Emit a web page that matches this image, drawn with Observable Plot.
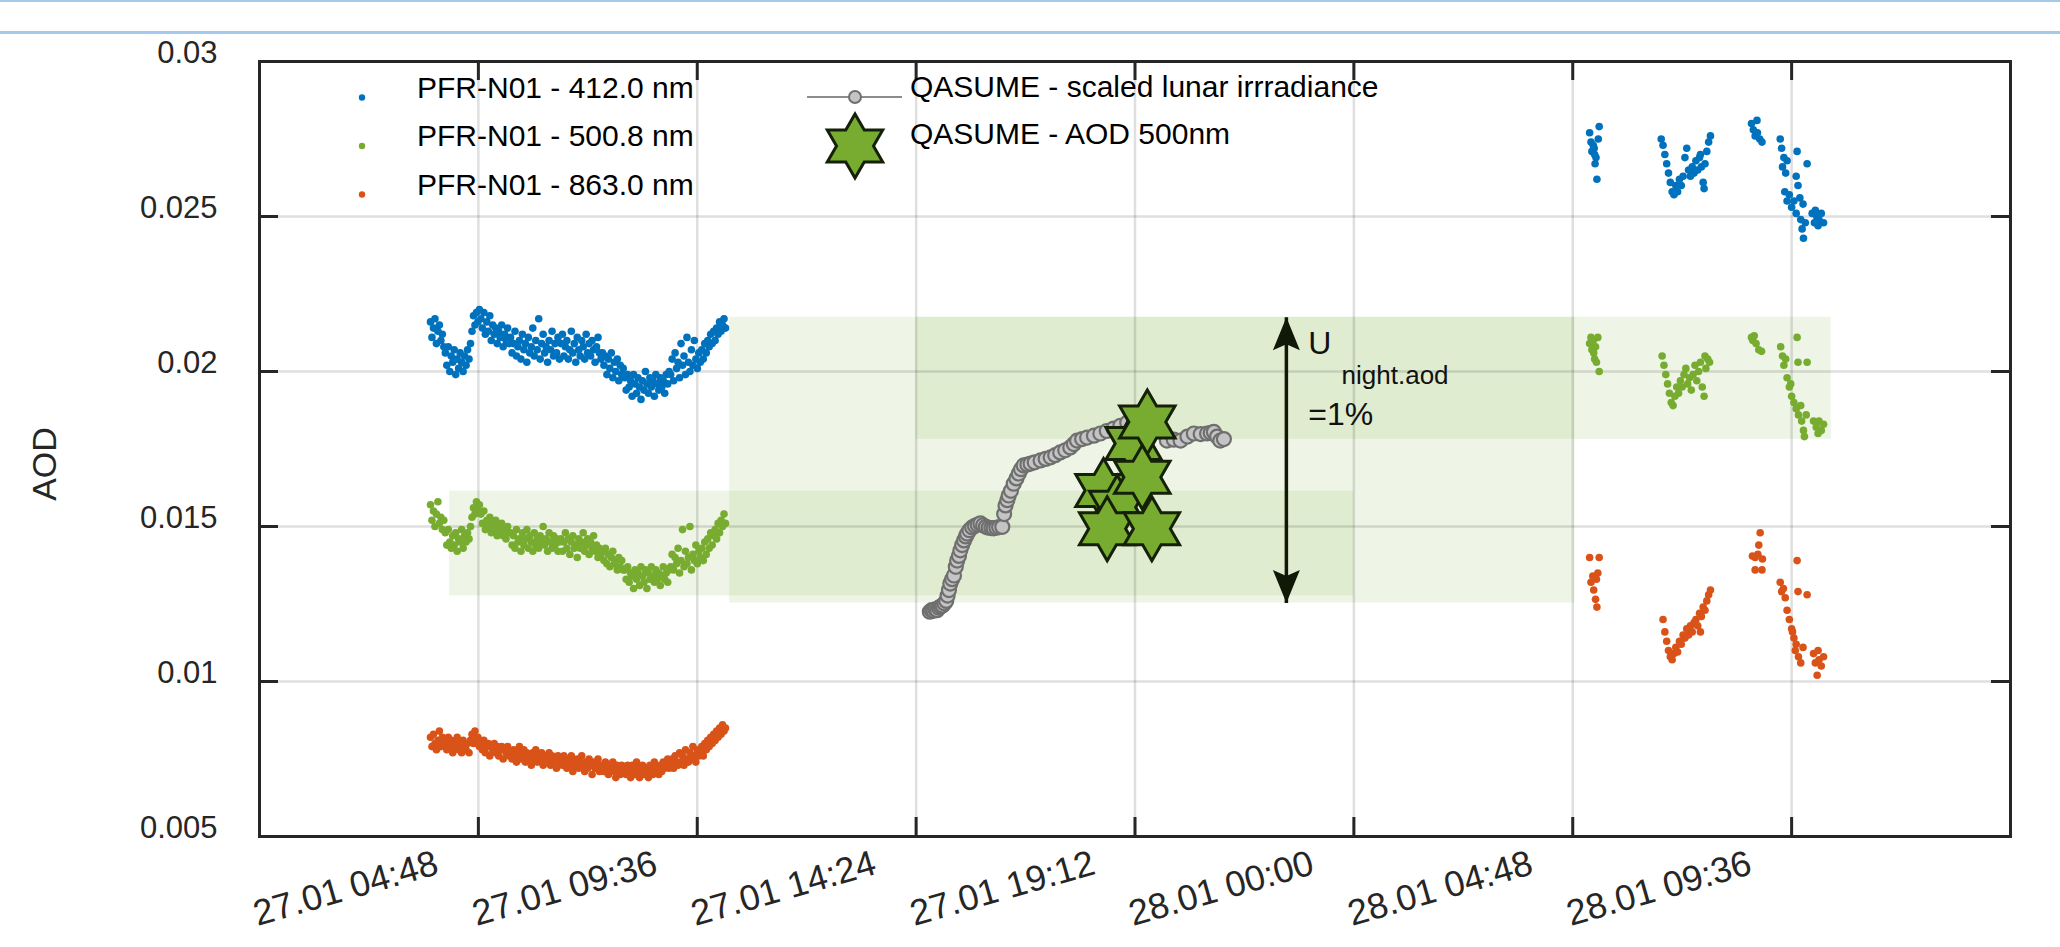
<!DOCTYPE html>
<html><head><meta charset="utf-8">
<script src="https://cdn.jsdelivr.net/npm/d3@7"></script>
<script src="https://cdn.jsdelivr.net/npm/@observablehq/plot@0.6"></script>
<style>
html,body{margin:0;padding:0;background:#fff;overflow:hidden;}
#wrap{position:relative;width:2060px;height:947px;background:#fff;}
.bar{position:absolute;left:0;width:2060px;background:#a3c9ed;}
</style></head><body>
<div id="wrap"><div id="chart"></div><div class="bar" style="top:0;height:2px"></div><div class="bar" style="top:31px;height:3px"></div></div>
<script>
const FONT = '"Liberation Sans", Arial, Helvetica, sans-serif';
// x: hours after 27.01 00:00 ; AOD series values in units of 0.001
const xTicks = [4.8, 9.6, 14.4, 19.2, 24, 28.8, 33.6];
const xTickLabels = ["27.01 04:48", "27.01 09:36", "27.01 14:24", "27.01 19:12", "28.01 00:00", "28.01 04:48", "28.01 09:36"];
const yTicks = [0.005, 0.01, 0.015, 0.02, 0.025, 0.03];
const yTickLabels = ["0.005", "0.01", "0.015", "0.02", "0.025", "0.03"];
const seriesNames = ["PFR-N01 - 412.0 nm", "PFR-N01 - 500.8 nm", "PFR-N01 - 863.0 nm"];
const seriesColors = ["#0072bd", "#77ac30", "#d95319"];
const qasumeNames = ["QASUME - scaled lunar irrradiance", "QASUME - AOD 500nm"];

// PFR day 1: regular sampling from 03:45
const day1Start = 3.75, day1Step = 0.03251;
const pfr412Day1 = [21.6,21.1,21.4,21.7,20.9,21.3,21.5,21.0,21.2,20.8,
 20.6,20.2,20.8,20.0,20.5,20.3,20.7,19.9,20.4,20.1,20.6,20.3,20.0,20.5,20.2,20.7,20.4,20.9,
 21.3,21.8,21.5,21.9,21.6,22.0,
 21.7,21.4,21.9,21.2,21.6,21.3,21.8,21.0,21.5,21.2,21.4,20.9,21.3,21.1,21.5,20.8,21.2,21.0,21.4,20.9,
 21.1,20.6,20.9,21.3,20.5,20.8,21.0,20.4,21.2,20.7,20.9,20.3,21.1,20.6,20.8,21.4,20.5,21.0,20.7,21.7,20.4,20.9,21.2,20.6,20.8,20.3,21.0,20.7,21.3,20.5,20.9,20.6,21.1,20.4,
 20.9,21.2,20.5,20.8,21.0,20.4,20.7,21.3,20.6,20.9,20.3,21.1,20.7,20.5,21.0,20.8,20.4,21.2,20.6,20.9,20.5,21.0,20.7,20.3,20.8,21.1,20.6,20.4,
 20.6,20.2,20.5,19.9,20.4,20.1,20.6,19.8,20.3,20.0,20.4,19.7,20.2,19.9,20.1,
 19.8,19.4,19.9,19.5,19.7,19.2,19.9,19.6,19.3,19.8,19.5,19.1,19.7,19.4,20.0,19.6,19.3,19.8,19.5,19.7,19.2,19.9,19.6,19.4,19.8,19.5,19.7,19.3,19.9,19.6,20.0,
 19.9,20.4,19.7,20.6,20.1,20.3,19.8,20.9,20.2,20.5,19.9,21.1,20.3,20.0,20.7,20.2,21.0,20.4,20.1,20.6,
 20.3,20.7,20.4,20.9,20.6,21.0,20.8,21.2,20.9,21.3,21.0,21.4,21.2,21.6,21.3,21.5,21.7,21.4];
const pfr500Day1 = [15.7,15.2,15.5,15.0,15.4,15.8,15.1,15.3,14.9,15.2,
 14.8,14.4,14.9,14.5,14.3,14.7,14.4,14.8,14.2,14.6,14.5,14.9,14.3,14.7,14.5,14.8,14.6,15.0,
 15.3,15.6,15.4,15.8,15.5,15.7,
 15.4,15.1,15.5,14.9,15.2,15.0,15.3,14.8,15.1,14.9,15.2,14.7,15.0,14.8,15.1,14.7,14.9,14.6,15.0,14.8,
 14.8,14.4,14.7,14.3,14.9,14.5,14.6,14.2,14.8,14.4,14.6,14.9,14.3,14.7,14.5,14.2,14.8,14.4,14.6,14.3,14.7,14.5,15.0,14.4,14.6,14.2,14.8,14.5,14.3,14.7,14.4,14.6,14.2,14.5,
 14.6,14.2,14.5,14.8,14.3,14.6,14.1,14.5,14.7,14.3,14.4,14.0,14.6,14.3,14.5,14.8,14.2,14.4,14.6,14.1,14.5,14.3,14.7,14.2,14.4,14.0,14.3,14.1,
 14.2,13.9,14.3,13.8,14.1,13.7,14.0,14.2,13.8,13.9,13.6,14.0,13.7,13.9,13.6,
 13.6,13.3,13.7,13.2,13.5,13.4,13.0,13.6,13.3,13.5,13.1,13.7,13.4,13.2,13.6,13.0,13.5,13.3,13.7,13.4,13.2,13.6,13.3,13.5,13.1,13.4,13.7,13.3,13.5,13.2,13.6,
 13.7,14.1,13.6,14.0,13.8,14.3,13.5,13.9,14.9,13.7,14.2,13.8,14.0,15.0,13.6,14.1,13.9,14.4,13.8,14.2,
 14.0,14.3,13.9,14.5,14.1,14.6,14.3,14.8,14.4,14.7,14.9,14.6,15.1,14.8,15.2,15.0,15.4,15.1];
const pfr863Day1 = [8.2,7.9,8.3,8.0,7.8,8.1,8.4,7.9,8.2,8.0,
 8.0,7.8,8.2,7.9,8.1,7.7,8.0,7.9,8.2,7.8,8.0,7.7,8.1,7.9,7.8,8.0,7.7,8.1,
 8.3,8.0,8.4,8.1,8.2,7.9,
 8.0,7.8,8.1,7.7,7.9,8.0,7.6,7.9,7.8,8.0,7.7,7.9,7.6,7.8,7.9,7.5,7.8,7.7,7.9,7.6,
 7.7,7.5,7.8,7.6,7.4,7.7,7.9,7.5,7.6,7.8,7.4,7.7,7.5,7.6,7.3,7.7,7.5,7.8,7.4,7.6,7.5,7.7,7.3,7.6,7.4,7.5,7.7,7.3,7.6,7.4,7.5,7.2,7.6,7.4,
 7.5,7.3,7.6,7.4,7.2,7.5,7.3,7.6,7.1,7.4,7.3,7.5,7.2,7.4,7.6,7.3,7.1,7.4,7.2,7.5,7.3,7.0,7.4,7.2,7.3,7.5,7.1,7.3,
 7.3,7.1,7.4,7.2,7.0,7.3,7.2,7.4,7.1,6.9,7.3,7.2,7.0,7.3,7.1,
 7.2,7.0,7.3,7.1,6.9,7.3,7.1,7.0,7.4,7.2,6.9,7.1,7.3,7.0,7.2,7.1,6.9,7.3,7.2,7.0,7.4,7.1,7.2,7.0,7.3,7.1,7.4,7.2,7.3,7.5,7.2,
 7.3,7.5,7.2,7.6,7.4,7.3,7.7,7.4,7.6,7.3,7.8,7.5,7.4,7.7,7.5,7.9,7.6,7.4,7.8,7.6,
 7.7,7.9,7.6,8.0,7.8,8.1,7.9,8.2,8.0,8.3,8.1,8.4,8.2,8.5,8.3,8.6,8.4,8.5];

// PFR day 2: [hour, value]
const pfr412Day2 = [[29.17,27.7],[29.38,27.9],[29.36,27.5],[29.25,27.3],[29.22,27.1],[29.28,27.0],[29.31,26.9],[29.29,26.7],[29.33,26.2],[29.2,27.4],[29.27,27.2],
 [30.74,27.5],[30.78,27.3],[30.82,27.0],[30.86,26.7],[30.9,26.4],[30.94,26.1],[30.98,25.8],[31.02,25.7],[31.06,26.0],[31.1,25.8],[31.14,26.2],[31.18,26.0],[31.22,26.3],[31.26,26.9],[31.3,27.2],[31.34,26.5],[31.38,26.3],[31.42,26.6],[31.46,26.4],[31.5,26.8],[31.54,26.5],[31.58,26.9],[31.62,26.6],[31.66,26.1],[31.68,25.9],[31.7,26.7],[31.74,27.1],[31.78,27.4],[31.82,27.6],[31.6,27.0],
 [32.72,28.0],[32.76,27.8],[32.8,27.6],[32.85,27.7],[32.9,27.5],[32.95,27.4],[32.84,28.1],
 [33.35,27.5],[33.38,27.2],[33.43,26.9],[33.4,26.6],[33.47,26.4],[33.5,26.8],[33.72,27.1],[33.94,26.7],[33.7,26.3],[33.74,26.0],[33.45,25.8],[33.5,25.5],[33.55,25.7],[33.6,25.3],[33.65,25.5],[33.7,25.1],[33.78,25.6],[33.85,25.4],[33.8,24.9],[33.83,24.6],[33.86,24.3],[33.9,24.8],[34.05,25.1],[34.1,24.8],[34.15,25.0],[34.2,24.9],[34.25,25.1],[34.3,24.8],[34.18,24.7],[34.12,25.2]];
const pfr500Day2 = [[29.17,20.9],[29.2,21.1],[29.25,21.0],[29.3,20.8],[29.35,21.1],[29.22,20.7],[29.28,20.4],[29.32,20.3],[29.38,20.0],[29.26,20.6],
 [30.76,20.5],[30.8,20.2],[30.84,19.9],[30.88,19.6],[30.92,19.3],[30.96,19.0],[31.0,18.9],[31.04,19.2],[31.08,19.5],[31.12,19.3],[31.16,19.7],[31.2,19.5],[31.24,19.9],[31.28,20.1],[31.32,19.6],[31.36,19.8],[31.4,19.4],[31.44,19.9],[31.48,20.2],[31.52,19.7],[31.56,20.0],[31.6,20.3],[31.64,19.5],[31.68,19.2],[31.72,20.1],[31.76,20.4],[31.8,20.3],[31.7,20.5],
 [32.72,21.1],[32.75,21.0],[32.78,21.15],[32.82,20.9],[32.88,20.7],[32.94,20.65],
 [33.36,20.8],[33.4,20.5],[33.43,20.2],[33.47,20.4],[33.5,19.8],[33.55,19.5],[33.6,19.2],[33.65,19.0],[33.7,18.8],[33.75,18.6],[33.8,18.9],[33.72,21.1],[33.74,20.3],[33.94,20.3],[33.82,18.4],[33.86,18.1],[33.88,17.9],[34.08,18.4],[34.14,18.2],[34.2,18.4],[34.25,18.1],[34.3,18.3],[34.18,18.0],[33.92,18.6],[33.58,19.6]];
const pfr863Day2 = [[29.17,14.0],[29.38,14.0],[29.35,13.5],[29.32,13.3],[29.2,13.2],[29.26,12.95],[29.3,12.65],[29.33,12.4],[29.24,13.4],
 [30.78,12.0],[30.82,11.6],[30.86,11.3],[30.9,11.0],[30.94,10.8],[30.98,10.7],[31.02,10.9],[31.06,11.1],[31.1,10.95],[31.14,11.3],[31.18,11.2],[31.22,11.5],[31.26,11.4],[31.3,11.7],[31.34,11.5],[31.38,11.8],[31.42,11.6],[31.46,11.9],[31.5,12.0],[31.54,11.8],[31.58,12.2],[31.62,12.1],[31.66,12.4],[31.7,12.3],[31.74,12.6],[31.78,12.8],[31.82,12.95],[31.6,11.6],
 [32.91,14.8],[32.88,14.4],[32.74,14.05],[32.8,14.0],[32.86,14.1],[32.96,13.95],[32.8,13.6],[32.95,13.6],
 [33.35,13.2],[33.38,12.9],[33.42,13.0],[33.46,12.7],[33.5,12.3],[33.55,12.0],[33.6,11.7],[33.65,11.4],[33.7,11.2],[33.72,13.9],[33.74,12.9],[33.94,12.8],[33.62,11.6],[33.68,11.0],[33.75,10.8],[33.8,10.6],[33.85,11.1],[34.08,10.9],[34.12,10.6],[34.16,10.2],[34.2,10.7],[34.25,10.5],[34.3,10.8],[34.18,11.0]];

// QASUME scaled lunar irradiance [hour, value]
const lunar = [[14.70,12.25],[14.74,12.3],[14.78,12.28],[14.82,12.33],[14.86,12.3],[14.9,12.38],[14.94,12.42],[14.98,12.45],[15.02,12.52],[15.06,12.6],[15.09,12.77],[15.12,12.95],[15.15,13.16],[15.19,13.3],[15.23,13.42],[15.27,13.7],[15.3,13.9],[15.34,14.05],[15.37,14.23],[15.41,14.4],[15.45,14.55],[15.49,14.68],[15.52,14.77],[15.57,14.88],[15.63,14.97],[15.69,15.02],[15.75,15.06],[15.81,15.1],[15.87,15.04],[15.93,14.99],[15.99,14.96],[16.05,14.95],[16.1,14.94],[16.16,14.96],[16.22,14.98],[16.29,14.99],[16.33,15.4],[16.36,15.68],[16.4,15.85],[16.43,16.0],[16.48,16.15],[16.54,16.38],[16.6,16.55],[16.65,16.71],[16.7,16.85],[16.76,16.97],[16.84,17.0],[16.91,17.03],[17.0,17.07],[17.13,17.13],[17.24,17.18],[17.35,17.23],[17.45,17.3],[17.56,17.39],[17.67,17.46],[17.78,17.55],[17.86,17.66],[17.93,17.77],[18.04,17.82],[18.15,17.87],[18.3,17.93],[18.44,18.0],[18.58,18.08],[18.73,18.16],[18.88,18.25],[19.03,18.35],[19.17,18.3],[19.32,18.28],[19.47,18.2],[19.62,18.12],[19.76,18.1],[19.9,17.77],[20.05,17.8],[20.2,17.77],[20.35,17.9],[20.49,18.0],[20.64,17.98],[20.78,18.0],[20.86,18.02],[20.93,18.05],[21.0,17.9],[21.07,17.77],[21.15,17.82]];

// QASUME AOD 500 nm
const starTime = [19.17, 19.47, 18.51, 18.81, 19.36, 18.59, 19.57];
const starAOD = [17.68, 18.37, 16.16, 15.62, 16.59, 14.93, 14.93];

// uncertainty bands (AOD)
const bandStart = [4.17, 10.31, 14.4];
const bandEnd = [24.0, 28.85, 34.47];
const bandLow = [0.01276, 0.01253, 0.01781];
const bandHigh = [0.01614, 0.02175, 0.02175];

// U arrow & annotation
const arrowTime = 22.52, arrowTop = 0.02175, arrowBottom = 0.01253;
const annText = ["U", "night.aod", "=1%"];
const annTime = [23.0, 23.73, 23.0];
const annAOD = [0.02058, 0.01961, 0.01826];
const annSize = [32, 26, 32];

// ---- build tables ----
const pfr = [];
[pfr412Day1, pfr500Day1, pfr863Day1].forEach((vals, s) => vals.forEach((v, i) => pfr.push({t: day1Start + i * day1Step, aod: v / 1000, c: seriesColors[s]})));
[pfr412Day2, pfr500Day2, pfr863Day2].forEach((pts, s) => pts.forEach(([t, v]) => pfr.push({t, aod: v / 1000, c: seriesColors[s]})));
const lunarData = lunar.map(([t, v]) => ({t, aod: v / 1000}));
const stars = starTime.map((t, i) => ({t, aod: starAOD[i] / 1000}));
const bands = bandStart.map((s, i) => ({x1: s, x2: bandEnd[i], y1: bandLow[i], y2: bandHigh[i]}));
const ann = annText.map((text, i) => ({text, t: annTime[i], aod: annAOD[i], size: annSize[i]}));
const arrowHeads = [{t: arrowTime, aod: arrowTop, rot: 0}, {t: arrowTime, aod: arrowBottom, rot: 180}];

const hexagram = {
  draw(ctx, size) {
    const R = Math.sqrt(size / Math.PI), r = R / Math.sqrt(3);
    for (let k = 0; k < 12; ++k) {
      const a = -Math.PI / 2 + k * Math.PI / 6, rad = k % 2 ? r : R;
      const x = rad * Math.cos(a), y = rad * Math.sin(a);
      k ? ctx.lineTo(x, y) : ctx.moveTo(x, y);
    }
    ctx.closePath();
  }
};
const arrowHead = {
  draw(ctx) { ctx.moveTo(0, 0); ctx.lineTo(13.5, 33); ctx.lineTo(0, 27); ctx.lineTo(-13.5, 33); ctx.closePath(); }
};

const W = 2060, H = 947, mL = 259, mR = 50, mT = 61, mB = 111;
const fw = W - mL - mR, fh = H - mT - mB, tk = 19;
const dark = "#262626";
const inner = yTicks.slice(1, -1);

const plot = Plot.plot({
  width: W, height: H,
  marginLeft: mL, marginRight: mR, marginTop: mT, marginBottom: mB,
  x: {domain: [0, 38.4], axis: null},
  y: {domain: [0.005, 0.03], axis: null},
  color: {type: "identity"},
  style: {fontFamily: FONT, background: "#fff", overflow: "visible"},
  marks: [
    Plot.rect(bands, {x1: "x1", x2: "x2", y1: "y1", y2: "y2", fill: "#77ac30", fillOpacity: 0.12}),
    Plot.gridX(xTicks, {stroke: dark, strokeOpacity: 0.15, strokeWidth: 2.5}),
    Plot.gridY(inner, {stroke: dark, strokeOpacity: 0.15, strokeWidth: 2.5}),
    Plot.dot(pfr, {x: "t", y: "aod", r: 3.8, fill: "c", stroke: null}),
    Plot.line(lunarData, {x: "t", y: "aod", stroke: "#8c8c8c", strokeWidth: 2}),
    Plot.dot(lunarData, {x: "t", y: "aod", r: 7, fill: "#c4c4c4", stroke: "#6f6f6f", strokeWidth: 2.2}),
    Plot.dot(stars, {x: "t", y: "aod", symbol: hexagram, r: 32, fill: "#77ac30", stroke: "#142008", strokeWidth: 3, strokeLinejoin: "miter"}),
    Plot.link([{t: arrowTime}], {x1: "t", x2: "t", y1: () => arrowTop, y2: () => arrowBottom, stroke: "#101808", strokeWidth: 3.5}),
    Plot.dot(arrowHeads, {x: "t", y: "aod", rotate: "rot", symbol: arrowHead, r: 10, fill: "#101808", stroke: null}),
    Plot.text(ann, {x: "t", y: "aod", text: "text", fontSize: "size", textAnchor: "start", lineAnchor: "bottom", fill: "#111"}),
    Plot.ruleX(xTicks, {insetTop: fh - tk, stroke: dark, strokeWidth: 3}),
    Plot.ruleX(xTicks, {insetBottom: fh - tk, stroke: dark, strokeWidth: 3}),
    Plot.ruleY(inner, {insetRight: fw - tk, stroke: dark, strokeWidth: 3}),
    Plot.ruleY(inner, {insetLeft: fw - tk, stroke: dark, strokeWidth: 3}),
    Plot.frame({stroke: dark, strokeWidth: 3}),
    Plot.text(yTicks, {y: d => d, frameAnchor: "left", text: (d, i) => yTickLabels[i], textAnchor: "end", lineAnchor: "bottom", dx: -42, dy: 1, fontSize: 31, fill: dark}),
    Plot.text(xTicks, {x: d => d, frameAnchor: "bottom", text: (d, i) => xTickLabels[i], textAnchor: "end", lineAnchor: "bottom", rotate: -16, dx: -38, dy: 37, fontSize: 36, fill: dark}),
    Plot.text(["AOD"], {frameAnchor: "left", text: d => d, rotate: -90, textAnchor: "middle", lineAnchor: "bottom", dx: -204, dy: 15, fontSize: 34, fill: dark})
  ]
});
document.getElementById("chart").appendChild(plot);

// ---- legend ----
const svg = d3.select(plot);
const lg = svg.append("g").attr("font-family", FONT).attr("font-size", 30).attr("fill", "#000").attr("text-anchor", "start");
seriesNames.forEach((name, i) => {
  const y = 97.5 + i * 48.5;
  lg.append("circle").attr("cx", 362).attr("cy", y).attr("r", 3.2).attr("fill", seriesColors[i]);
  lg.append("text").attr("x", 417).attr("y", y).text(name);
});
lg.append("line").attr("x1", 807).attr("x2", 902).attr("y1", 97).attr("y2", 97).attr("stroke", "#8c8c8c").attr("stroke-width", 2);
lg.append("circle").attr("cx", 855).attr("cy", 97).attr("r", 6).attr("fill", "#c4c4c4").attr("stroke", "#6f6f6f").attr("stroke-width", 2);
lg.append("text").attr("x", 910).attr("y", 97).text(qasumeNames[0]);
lg.append("path").attr("transform", "translate(855,146)").attr("d", d3.symbol().type(hexagram).size(32 * 32 * Math.PI)())
  .attr("fill", "#77ac30").attr("stroke", "#142008").attr("stroke-width", 3);
lg.append("text").attr("x", 910).attr("y", 144).text(qasumeNames[1]);
</script></body></html>
